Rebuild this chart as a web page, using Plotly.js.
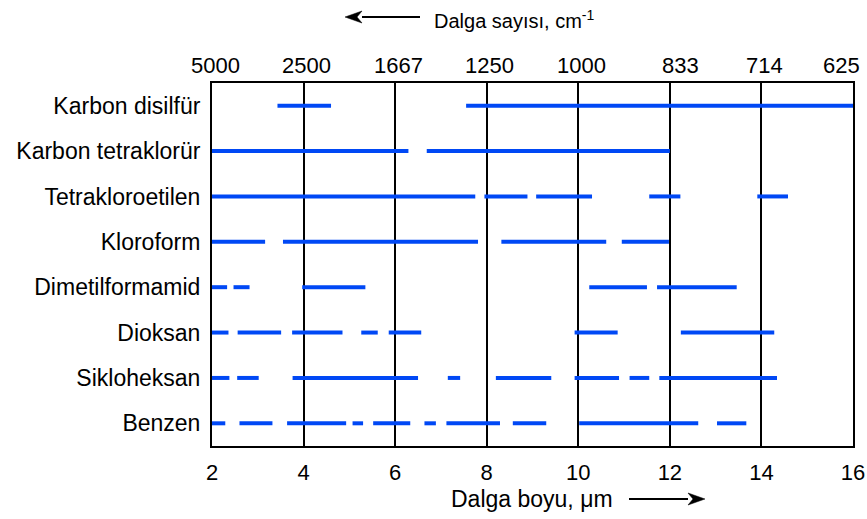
<!DOCTYPE html>
<html>
<head>
<meta charset="utf-8">
<script src="https://cdn.plot.ly/plotly-3.0.1.min.js"></script>
<style>html,body{margin:0;padding:0;background:#fff;}#chart{width:867px;height:519px;}</style>
</head>
<body>
<div id="chart"></div>
<script>
const categories = ['Karbon disilfür','Karbon tetraklorür','Tetrakloroetilen','Kloroform','Dimetilformamid','Dioksan','Sikloheksan','Benzen'];
const karbonDisilfur = [[3.43,4.60],[7.55,16.0]];
const karbonTetraklorur = [[2.0,6.29],[6.69,12.0]];
const tetrakloroetilen = [[2.0,7.75],[7.95,8.89],[9.08,10.30],[11.55,12.23],[13.91,14.58]];
const kloroform = [[2.0,3.16],[3.55,7.81],[8.32,10.61],[10.95,11.98]];
const dimetilformamid = [[2.0,2.33],[2.47,2.82],[3.97,5.35],[10.24,11.50],[11.72,13.46]];
const dioksan = [[2.0,2.36],[2.56,3.51],[3.75,4.85],[5.26,5.62],[5.86,6.57],[9.92,10.86],[12.24,14.28]];
const sikloheksan = [[2.0,2.38],[2.55,3.02],[3.76,6.50],[7.15,7.42],[8.20,9.41],[9.92,10.89],[11.12,11.55],[11.77,14.34]];
const benzen = [[2.0,2.29],[2.60,3.32],[3.64,4.93],[5.07,5.30],[5.52,6.33],[6.64,6.89],[7.12,8.29],[8.57,9.30],[10.02,12.62],[13.03,13.67]];
const wavelengthTicks = [2,4,6,8,10,12,14,16];
const wavenumberLabels = ['5000','2500','1667','1250','1000','833','714','625'];

const rows = [karbonDisilfur,karbonTetraklorur,tetrakloroetilen,kloroform,dimetilformamid,dioksan,sikloheksan,benzen];
const FONT = 'Liberation Sans, Arial, sans-serif';
const L = 212, T = 83, W = 641, H = 363;
const px = v => (v - L) / W;
const py = v => (T + H - v) / H;

const traces = rows.map((segs, i) => {
  const x = [], y = [];
  segs.forEach(s => { x.push(s[0], s[1], null); y.push(i, i, null); });
  return {x, y, type:'scatter', mode:'lines', line:{color:'rgb(0,72,245)', width:4}, hoverinfo:'skip', showlegend:false, cliponaxis:false};
});

// top wavenumber labels placed at their wavelength positions
const topLabels = wavenumberLabels.map((lab, i) => {
  const last = i === wavenumberLabels.length - 1;
  return {xref:'x', yref:'paper', x:wavelengthTicks[i], y:1, yanchor:'bottom', yshift:3,
          xanchor: last ? 'right' : 'center', xshift: last ? 9 : (lab === '833' ? 11 : 3),
          text:lab, showarrow:false, font:{size:22, family:FONT}};
});

function arrow(x0, x1, y, dir) {
  const tip = dir < 0 ? x0 : x1;
  const base = tip - dir * 17;
  const lineStart = dir < 0 ? base : x0;
  const lineEnd = dir < 0 ? x1 : base;
  return [
    {type:'line', xref:'paper', yref:'paper', x0:px(lineStart), x1:px(lineEnd), y0:py(y), y1:py(y), line:{color:'#000', width:1.8}},
    {type:'path', xref:'paper', yref:'paper', fillcolor:'#000', line:{color:'#000', width:0.5},
     path:`M ${px(tip)} ${py(y)} L ${px(base)} ${py(y-6)} L ${px(tip - dir*12)} ${py(y)} L ${px(base)} ${py(y+6)} Z`}
  ];
}

const layout = {
  width:867, height:519,
  margin:{l:L, r:867-L-W, t:T, b:519-T-H},
  paper_bgcolor:'#fff', plot_bgcolor:'#fff',
  font:{family:FONT, color:'#000', size:22},
  xaxis:{range:[2,16], tickvals:wavelengthTicks, showgrid:true, gridcolor:'#000', gridwidth:2,
         zeroline:false, showline:true, linecolor:'#000', linewidth:2, mirror:true,
         ticks:'', ticklabelstandoff:6, tickfont:{size:22, family:FONT}},
  yaxis:{range:[7.5,-0.5], tickvals:[0,1,2,3,4,5,6,7], ticktext:categories, showgrid:false, zeroline:false,
         showline:true, linecolor:'#000', linewidth:2, mirror:true, ticks:'', ticklabelstandoff:5,
         tickfont:{size:23, family:FONT}},
  shapes:[...arrow(345, 420, 17, -1), ...arrow(629, 705, 499, 1)],
  annotations:[
    ...topLabels,
    {xref:'paper', yref:'paper', x:px(432), y:py(19), xanchor:'left', yanchor:'middle',
     text:'Dalga sayısı, cm<sup>-1</sup>', showarrow:false, font:{size:20, family:FONT}},
    {xref:'paper', yref:'paper', x:px(449), y:py(499), xanchor:'left', yanchor:'middle',
     text:'Dalga boyu, μm', showarrow:false, font:{size:23, family:FONT}}
  ]
};
Plotly.newPlot('chart', traces, layout, {displayModeBar:false, staticPlot:true});
</script>
</body>
</html>
